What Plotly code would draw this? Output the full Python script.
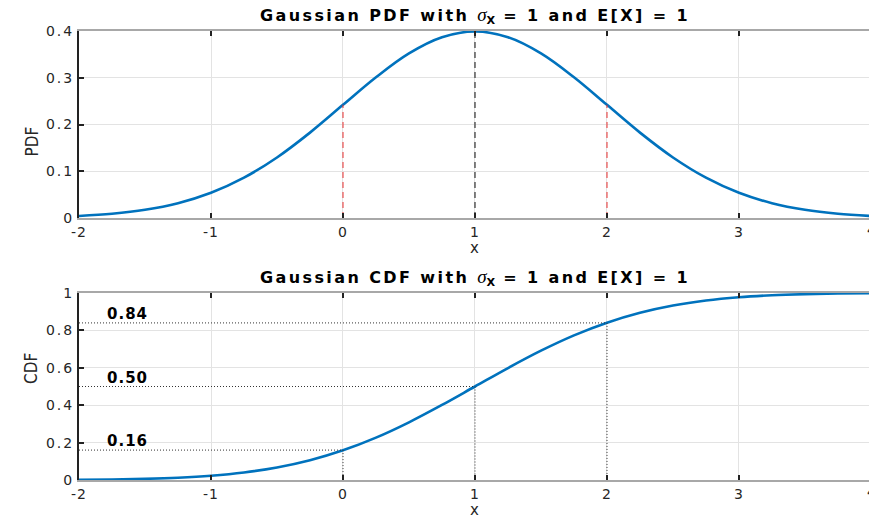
import plotly.graph_objects as go

# ---- data ----
x_vals = [-2.0, -1.75, -1.5, -1.25, -1.0, -0.75, -0.5, -0.25, 0.0, 0.25, 0.5, 0.75, 1.0,
          1.25, 1.5, 1.75, 2.0, 2.25, 2.5, 2.75, 3.0, 3.25, 3.5, 3.75, 4.0]
pdf_vals = [0.0044, 0.0091, 0.0175, 0.0317, 0.0540, 0.0863, 0.1295, 0.1826, 0.2420, 0.3011,
            0.3521, 0.3867, 0.3989, 0.3867, 0.3521, 0.3011, 0.2420, 0.1826, 0.1295, 0.0863,
            0.0540, 0.0317, 0.0175, 0.0091, 0.0044]
cdf_vals = [0.0013, 0.0030, 0.0062, 0.0122, 0.0228, 0.0401, 0.0668, 0.1056, 0.1587, 0.2266,
            0.3085, 0.4013, 0.5000, 0.5987, 0.6915, 0.7734, 0.8413, 0.8944, 0.9332, 0.9599,
            0.9772, 0.9878, 0.9938, 0.9970, 0.9987]
sigma_x = [0, 2]
sigma_pdf = [0.242, 0.242]
mean_x = [1]
mean_pdf = [0.399]
cdf_mark_x = [0, 1, 2]
cdf_mark_y = [0.16, 0.50, 0.84]
cdf_labels = ["0.16", "0.50", "0.84"]
pdf_yticks = [0, 0.1, 0.2, 0.3, 0.4]
pdf_yticklabels = ["0", "0.1", "0.2", "0.3", "0.4"]
cdf_yticks = [0, 0.2, 0.4, 0.6, 0.8, 1]
cdf_yticklabels = ["0", "0.2", "0.4", "0.6", "0.8", "1"]
x_ticks = [-2, -1, 0, 1, 2, 3]
x_ticklabels = ["-2", "-1", "0", "1", "2", "3"]
x_min, x_max = -2, 3.985

BLUE = "#0072BD"
W, H = 869, 518
ML, MR, MT, MB = 79, 0, 31, 38
top_px_bottom = 218
bot_px_top = 293
plot_h = H - MT - MB
dom_top = [(H - MB - top_px_bottom) / plot_h, 1.0]
dom_bot = [0.0, (H - MB - bot_px_top) / plot_h]


def spaced(t, ls=1.5):
    return "<span style='letter-spacing:%spx'>%s</span>" % (ls, t)


fig = go.Figure()

# PDF
fig.add_trace(go.Scatter(x=x_vals, y=pdf_vals, mode="lines", line=dict(color=BLUE, width=2.6, shape="spline"),
                         xaxis="x", yaxis="y", showlegend=False, hoverinfo="skip"))
sx, sy = [], []
for xv, yv in zip(sigma_x, sigma_pdf):
    sx += [xv, xv, None]
    sy += [0, yv, None]
fig.add_trace(go.Scatter(x=sx, y=sy, mode="lines", line=dict(color="rgba(230,50,50,0.85)", width=1.2, dash="6px,4px"),
                         xaxis="x", yaxis="y", showlegend=False, hoverinfo="skip"))
mx, my = [], []
for xv, yv in zip(mean_x, mean_pdf):
    mx += [xv, xv, None]
    my += [0, yv, None]
fig.add_trace(go.Scatter(x=mx, y=my, mode="lines", line=dict(color="#333333", width=1.2, dash="6px,4px"),
                         xaxis="x", yaxis="y", showlegend=False, hoverinfo="skip"))

# CDF
fig.add_trace(go.Scatter(x=x_vals, y=cdf_vals, mode="lines", line=dict(color=BLUE, width=2.6, shape="spline"),
                         xaxis="x2", yaxis="y2", showlegend=False, hoverinfo="skip"))
dx, dy = [], []
for xv, yv in zip(cdf_mark_x, cdf_mark_y):
    dx += [x_min, xv, xv, None]
    dy += [yv, yv, 0, None]
fig.add_trace(go.Scatter(x=dx, y=dy, mode="lines", line=dict(color="#333333", width=1, dash="1px,2px"),
                         xaxis="x2", yaxis="y2", showlegend=False, hoverinfo="skip"))

TICKFONT = dict(family="DejaVu Sans, Arial, sans-serif", size=14, color="#262626")
xcommon = dict(range=[x_min, x_max], tickvals=x_ticks, ticktext=[spaced(t, 1) for t in x_ticklabels],
               ticks="inside", ticklen=5, tickcolor="#222222", tickwidth=2, showline=True,
               linecolor="#a8a8a8", linewidth=2, mirror="ticks", showgrid=True, gridcolor="#e3e3e3",
               gridwidth=1, zeroline=False, tickfont=TICKFONT, fixedrange=True)
ycommon = dict(ticks="inside", ticklen=5, tickcolor="#222222", tickwidth=2, showline=True,
               linecolor="#222222", linewidth=2, showgrid=True, gridcolor="#e3e3e3", gridwidth=1,
               zeroline=False, tickfont=TICKFONT, fixedrange=True)

fig.update_layout(
    width=W, height=H, margin=dict(l=ML, r=MR, t=MT, b=MB, autoexpand=False),
    paper_bgcolor="white", plot_bgcolor="white",
    xaxis=dict(domain=[0, 1], anchor="y", **xcommon),
    yaxis=dict(domain=dom_top, anchor="x", range=[0, 0.4], tickvals=pdf_yticks,
               ticktext=[spaced(t, 2) for t in pdf_yticklabels], **ycommon),
    xaxis2=dict(domain=[0, 1], anchor="y2", **xcommon),
    yaxis2=dict(domain=dom_bot, anchor="x2", range=[0, 1], tickvals=cdf_yticks,
                ticktext=[spaced(t, 2) for t in cdf_yticklabels], **ycommon),
)

# partially visible "4" tick labels at the right edge
for dom in (dom_top, dom_bot):
    fig.add_annotation(x=1, xref="paper", xshift=2, y=dom[0], yref="paper", yshift=-12, text="4",
                       showarrow=False, xanchor="center", yanchor="middle", font=TICKFONT)

TITLEFONT = dict(family="DejaVu Sans, Arial, sans-serif", size=16, color="black")


def make_title(kind):
    return ("<span style='letter-spacing:2.4px'><b>Gaussian %s with </b></span>"
            "<span style='font-family:Liberation Serif,serif;font-size:19px'><i>σ</i></span>"
            "<sub><b>X</b></sub>"
            "<span style='letter-spacing:2.4px'><b> = 1 and E[X] = 1</b></span>") % kind


fig.add_annotation(x=1, xref="x", y=1, yref="paper", yshift=2, text=make_title("PDF"), showarrow=False,
                   yanchor="bottom", font=TITLEFONT)
fig.add_annotation(x=1, xref="x2", y=dom_bot[1], yref="paper", yshift=2, text=make_title("CDF"), showarrow=False,
                   yanchor="bottom", font=TITLEFONT)

LABELFONT = dict(family="Liberation Sans Narrow, DejaVu Sans Condensed, Arial, sans-serif", size=17, color="#262626")
XLABFONT = dict(family="DejaVu Sans, Arial, sans-serif", size=15, color="#262626")
fig.add_annotation(x=1, xref="x", y=dom_top[0], yref="paper", yshift=-30, text="x", showarrow=False,
                   yanchor="middle", font=XLABFONT)
fig.add_annotation(x=1, xref="x2", y=0, yref="paper", yshift=-30, text="x", showarrow=False,
                   yanchor="middle", font=XLABFONT)
fig.add_annotation(x=0, xref="paper", xshift=-60, y=(dom_top[0] + dom_top[1]) / 2, yref="paper",
                   text="PDF", textangle=-90, showarrow=False, font=LABELFONT)
fig.add_annotation(x=0, xref="paper", xshift=-60, y=(dom_bot[0] + dom_bot[1]) / 2, yref="paper",
                   text="CDF", textangle=-90, showarrow=False, font=LABELFONT)

for lab, yv in zip(cdf_labels, cdf_mark_y):
    fig.add_annotation(x=-1.8, xref="x2", y=yv, yref="y2", yshift=9,
                       text="<span style='letter-spacing:1px'><b>" + lab + "</b></span>",
                       showarrow=False, xanchor="left", yanchor="middle",
                       font=dict(family="DejaVu Sans, Arial, sans-serif", size=15, color="black"))

fig.write_html("out.html", config={"displayModeBar": False},
               post_script="document.body.style.margin='0';document.body.style.overflow='hidden';")
